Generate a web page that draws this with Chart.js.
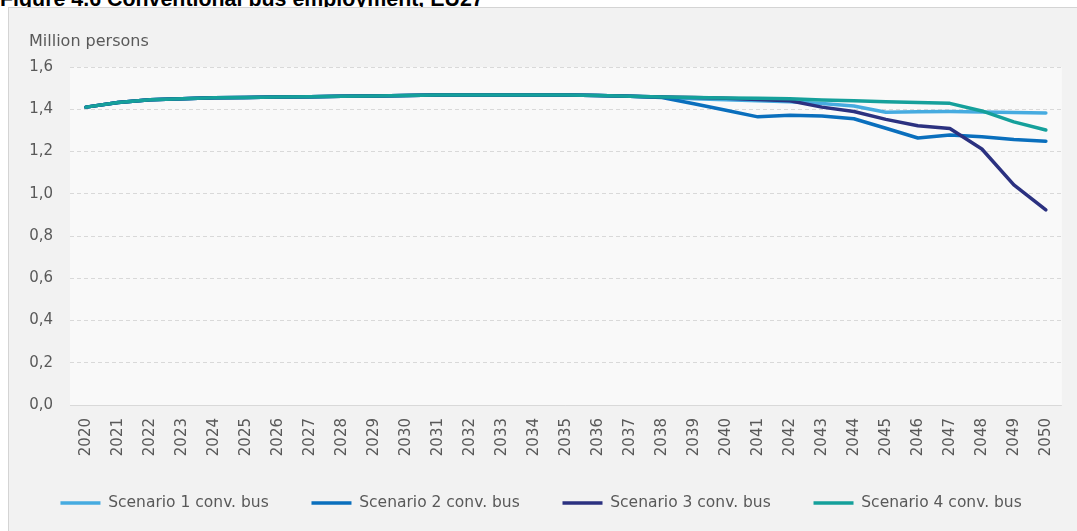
<!DOCTYPE html>
<html>
<head>
<meta charset="utf-8">
<script src="https://cdn.jsdelivr.net/npm/chart.js@4/dist/chart.umd.min.js"></script>
<style>
  body { margin: 0; background: #fff; width: 1077px; height: 531px; overflow: hidden; position: relative; }
  #title { position: absolute; left: 0; top: -11px; font: bold 21.4px/21px "Liberation Sans", Arial, sans-serif; color: #000; white-space: nowrap; }
  #box { position: absolute; left: 8px; top: 7px; width: 1068px; height: 523px; background: #f2f2f2; border-left: 1px solid #d4d4d4; border-top: 1px solid #d4d4d4; }
</style>
</head>
<body>
<div id="title">Figure 4.6 Conventional bus employment, EU27</div>
<div id="box"><canvas id="employment" width="1068" height="523"></canvas></div>
<script>
// years on the x axis
const years = [];
for (let y = 2020; y <= 2050; y++) years.push(String(y));

// million persons
const scenario1 = [1.410, 1.432, 1.445, 1.450, 1.454, 1.456, 1.458, 1.459, 1.462, 1.463, 1.465,
  1.468, 1.468, 1.468, 1.468, 1.468, 1.465, 1.462, 1.458, 1.450, 1.445,
  1.440, 1.435, 1.427, 1.415, 1.386, 1.388, 1.389, 1.387, 1.385, 1.382];
const scenario2 = [1.410, 1.432, 1.445, 1.450, 1.454, 1.456, 1.458, 1.459, 1.462, 1.463, 1.465,
  1.468, 1.468, 1.468, 1.468, 1.468, 1.465, 1.462, 1.456, 1.426, 1.395,
  1.364, 1.372, 1.368, 1.355, 1.310, 1.264, 1.278, 1.270, 1.257, 1.249];
const scenario3 = [1.410, 1.432, 1.445, 1.450, 1.454, 1.456, 1.458, 1.459, 1.462, 1.463, 1.465,
  1.468, 1.468, 1.468, 1.468, 1.468, 1.465, 1.462, 1.458, 1.456, 1.452,
  1.446, 1.440, 1.410, 1.389, 1.352, 1.322, 1.309, 1.212, 1.042, 0.924];
const scenario4 = [1.410, 1.432, 1.445, 1.450, 1.454, 1.456, 1.458, 1.459, 1.462, 1.463, 1.465,
  1.468, 1.468, 1.468, 1.468, 1.468, 1.465, 1.462, 1.458, 1.456, 1.453,
  1.452, 1.450, 1.444, 1.440, 1.436, 1.432, 1.428, 1.392, 1.340, 1.302];

const seriesNames = ["Scenario 1 conv. bus", "Scenario 2 conv. bus", "Scenario 3 conv. bus", "Scenario 4 conv. bus"];
const seriesColors = ["#46abe0", "#0a6fbd", "#2b3180", "#15a09b"];
const yTicks = [0, 0.2, 0.4, 0.6, 0.8, 1.0, 1.2, 1.4, 1.6];

const textColor = "#595959";
const fontFamily = '"DejaVu Sans", sans-serif';

//light panel behind the plot
const plotBackground = {
  id: "plotBackground",
  beforeDraw(chart) {
    const a = chart.chartArea;
    const ctx = chart.ctx;
    ctx.save();
    ctx.fillStyle = "#f9f9f9";
    ctx.fillRect(a.left, a.top, a.right - a.left, a.bottom - a.top);
    ctx.restore();
  }
};

const makeSet = (i, values) => ({
  label: seriesNames[i],
  data: values,
  borderColor: seriesColors[i],
  backgroundColor: seriesColors[i],
  borderWidth: 3.5,
  borderCapStyle: "round",
  borderJoinStyle: "round",
  pointRadius: 0,
  tension: 0,
  order: 3 - i
});

// default legend items, padded at the end so the four fit in one spaced row
const legendLabels = (chart) =>
  Chart.defaults.plugins.legend.labels.generateLabels(chart)
    .map((item) => ({ ...item, text: item.text + "\u00a0\u00a0\u00a0" }));

new Chart(document.querySelector("#employment"), {
  type: "line",
  data: {
    labels: years,
    datasets: [makeSet(0, scenario1), makeSet(1, scenario2), makeSet(2, scenario3), makeSet(3, scenario4)]
  },
  plugins: [plotBackground],
  options: {
    responsive: false,
    animation: false,
    layout: { padding: { left: 20, right: 9, top: 0, bottom: 10.25 } },
    plugins: {
      tooltip: { enabled: false },
      title: {
        display: true,
        text: "Million persons",
        align: "start",
        color: textColor,
        font: { family: fontFamily, size: 16, weight: "normal" },
        padding: { top: 24.4, bottom: 15.4 }
      },
      legend: {
        position: "bottom",
        labels: {
          usePointStyle: true,
          pointStyle: "line",
          pointStyleWidth: 40,
          padding: 28,
          color: textColor,
          font: { family: fontFamily, size: 15.5 },
          generateLabels: legendLabels,
          sort: (a, b) => a.datasetIndex - b.datasetIndex
        }
      }
    },
    scales: {
      x: {
        offset: true,
        grid: { display: false, drawTicks: false },
        border: { display: false },
        afterFit: (scale) => { scale.height = 62.25; },
        ticks: {
          autoSkip: false,
          minRotation: 90,
          maxRotation: 90,
          padding: 13,
          color: textColor,
          font: { family: fontFamily, size: 15 }
        }
      },
      y: {
        min: 0,
        max: 1.6,
        afterFit: (scale) => { scale.width = 41; },
        afterBuildTicks: (scale) => { scale.ticks = yTicks.map((v) => ({ value: v })); },
        grid: { color: "#d9d9d9", lineWidth: 1, drawTicks: false },
        border: {
          display: false,
          dash: (c) => (c.tick && c.tick.value === 0 ? [] : [4, 3])
        },
        ticks: {
          padding: 17,
          color: textColor,
          font: { family: fontFamily, size: 15 },
          callback: (v) => v.toFixed(1).replace(".", ",")
        }
      }
    }
  }
});
</script>
</body>
</html>
